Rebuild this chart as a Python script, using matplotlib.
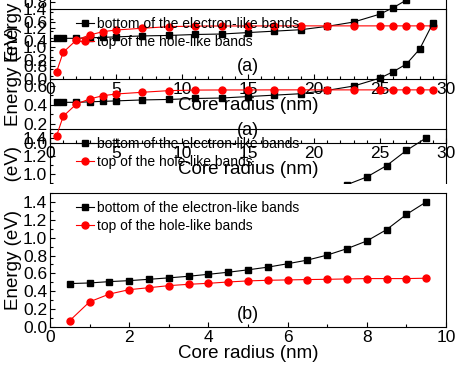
import matplotlib
matplotlib.use("Agg")
import matplotlib.pyplot as plt
from matplotlib.patches import Rectangle
from matplotlib.ticker import MultipleLocator

plt.rcParams['font.family'] = ['Liberation Sans', 'DejaVu Sans']

# panel (a): core radius 0-30 nm
radius_a = [0.5, 1, 2, 3, 4, 5, 7, 9, 11, 13, 15, 17, 19, 21, 23, 25, 26, 27, 28, 29]
electron_a = [0.425, 0.425, 0.425, 0.43, 0.435, 0.44, 0.45, 0.455, 0.465, 0.47,
              0.485, 0.50, 0.515, 0.55, 0.595, 0.678, 0.745, 0.825, 0.98, 1.25]
hole_a = [0.076, 0.279, 0.407, 0.46, 0.494, 0.512, 0.53, 0.547, 0.553, 0.554,
          0.554, 0.555, 0.555, 0.555, 0.555, 0.555, 0.555, 0.555, 0.555, 0.555]

# panel (b): core radius 0-10 nm
radius_b = [0.5, 1, 1.5, 2, 2.5, 3, 3.5, 4, 4.5, 5, 5.5, 6, 6.5, 7, 7.5, 8, 8.5, 9, 9.5]
electron_b = [0.486, 0.493, 0.508, 0.519, 0.534, 0.55, 0.568, 0.59, 0.613, 0.64,
              0.67, 0.708, 0.749, 0.805, 0.877, 0.963, 1.09, 1.26, 1.40]
hole_b = [0.072, 0.282, 0.369, 0.418, 0.44, 0.463, 0.478, 0.489, 0.504, 0.516,
          0.523, 0.527, 0.531, 0.534, 0.538, 0.542, 0.542, 0.542, 0.546]

label_e = "bottom of the electron-like bands"
label_h = "top of the hole-like bands"

W, H = 463, 367
fig = plt.figure(figsize=(W / 100, H / 100), dpi=100)


def panel(bottom_px, top_px, x, e, h, xmax, xmaj, ymax, tag, z=0, face='none'):
    ax = fig.add_axes([50 / W, (H - bottom_px) / H, 396 / W, (bottom_px - top_px) / H])
    ax.set_zorder(z)
    ax.set_facecolor(face)
    ax.plot(x, e, '-s', color='black', lw=0.8, ms=4, label=label_e)
    ax.plot(x, h, '-o', color='red', lw=0.8, ms=5, label=label_h)
    ax.set_xlim(0, xmax)
    ax.set_ylim(0, ymax)
    ax.xaxis.set_major_locator(MultipleLocator(xmaj))
    ax.xaxis.set_minor_locator(MultipleLocator(1))
    ax.yaxis.set_major_locator(MultipleLocator(0.2))
    ax.yaxis.set_minor_locator(MultipleLocator(0.1))
    ax.yaxis.set_major_formatter(lambda v, p: f"{v:.1f}")
    ax.tick_params(which='both', direction='in', labelsize=12.5, width=0.8, pad=2)
    ax.tick_params(which='major', length=3.5)
    ax.tick_params(which='minor', length=2)
    for s in ax.spines.values():
        s.set_linewidth(0.8)
    ax.set_xlabel("Core radius (nm)", fontsize=13.5, labelpad=0)
    ax.set_ylabel("Energy (eV)", fontsize=13.5, labelpad=1)
    ax.legend(loc='upper left', bbox_to_anchor=(0.059, 0.963), frameon=False,
              fontsize=10, handlelength=1.3, handletextpad=0.2,
              labelspacing=0.3, borderaxespad=0, borderpad=0.2)
    ax.text(0.5, 0.09, tag, transform=ax.transAxes, ha='center', va='center', fontsize=13)
    return ax


shift = 64
# shifted copy of the figure
panel(143 - shift, 9 - shift, radius_a, electron_a, hole_a, 30, 5, 1.4, "(a)")
panel(327 - shift, 193 - shift, radius_b, electron_b, hole_b, 10, 2, 1.5, "(b)")
# unshifted figure
panel(143, 9, radius_a, electron_a, hole_a, 30, 5, 1.4, "(a)")

# lower part is opaque
fig.add_artist(Rectangle((0, 0), 1, (H - 184) / H, transform=fig.transFigure,
                         facecolor='white', edgecolor='none', zorder=1))
panel(327, 193, radius_b, electron_b, hole_b, 10, 2, 1.5, "(b)", z=2, face='white')

fig.savefig("out.png", dpi=100)
